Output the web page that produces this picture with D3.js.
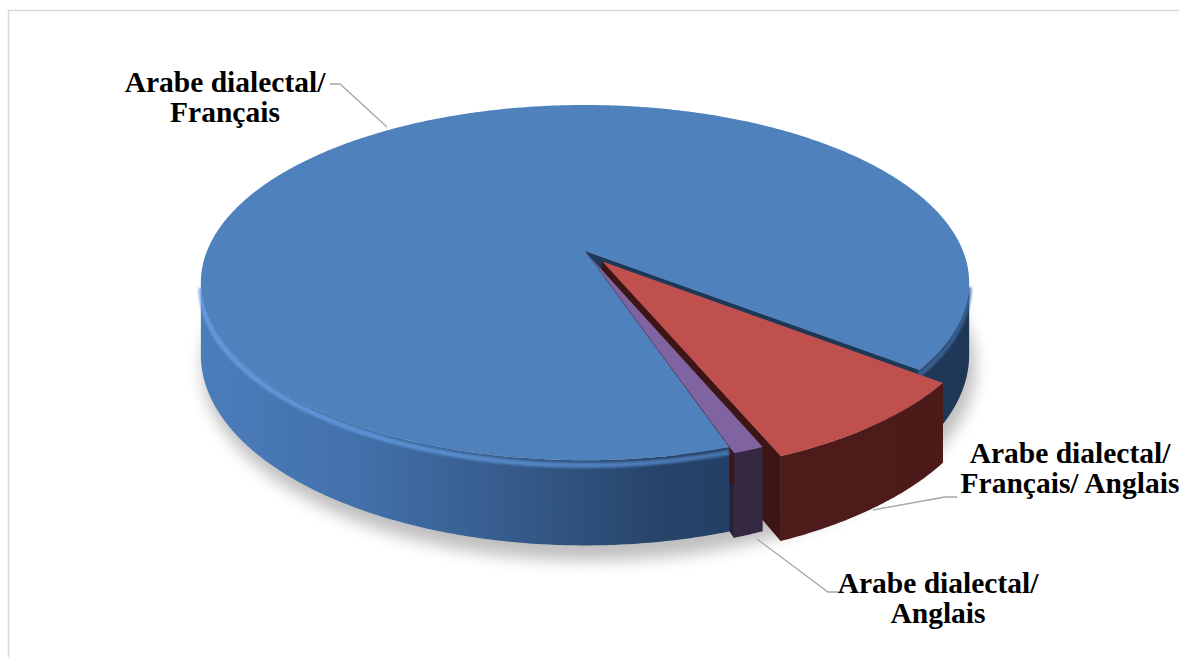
<!DOCTYPE html>
<html>
<head>
<meta charset="utf-8">
<script src="https://d3js.org/d3.v7.min.js"></script>
<style>
  body { margin: 0; background: #fff; }
  .lbl { font-family: "Liberation Serif", "Times New Roman", serif; font-weight: bold; font-size: 29.5px; fill: #000; }
</style>
</head>
<body>
<svg class="chart" width="1179" height="657"></svg>
<script>
// data (percent)
const categories = ["Arabe dialectal/ Français", "Arabe dialectal/ Français/ Anglais", "Arabe dialectal/ Anglais"];
const values = [90.7, 8.2, 1.1];
const labelLines = [["Arabe dialectal/", "Français"], ["Arabe dialectal/", "Français/ Anglais"], ["Arabe dialectal/", "Anglais"]];

// look of the 3D pie
const topColors  = ["#4f81bd", "#c0504d", "#8064a2"];
const sideGrads  = [["#4c7dbb", "#4271ab", "#365c8c", "#27436a", "#213a5c", "#1f3757"],
                    ["#6a2725", "#5e2220", "#581f1e", "#521d1c", "#4e1b1a", "#4a1a19"],
                    ["#40304f", "#3c2d4b", "#392b48", "#362944", "#332740", "#30253d"]];
const faceColors = ["#1e3858", "#3d1514", "#2c2138"];
const explode = [0, 0.075, 0.025];
const startDeg = 161.5;

const cx = 585, cy = 251, rx = 378, ry = 172, k = 0.178, H = 70;

const svg = d3.select(".chart");
const defs = svg.append("defs");

// frame
svg.append("rect").attr("x", 8.5).attr("y", 10.5).attr("width", 1200).attr("height", 700)
  .attr("fill", "none").attr("stroke", "#d9d9d9").attr("stroke-width", 1.5);

defs.append("filter").attr("id", "blur").attr("x", "-20%").attr("y", "-20%").attr("width", "140%").attr("height", "140%")
  .append("feGaussianBlur").attr("stdDeviation", 8);
defs.append("filter").attr("id", "soft")
  .append("feGaussianBlur").attr("stdDeviation", 1.2);

const xs = d3.scaleLinear().domain([0, 1]).range([200, 970]);
sideGrads.forEach((g, i) => {
  const lg = defs.append("linearGradient").attr("id", "side" + i)
    .attr("gradientUnits", "userSpaceOnUse")
    .attr("x1", xs(0)).attr("x2", xs(1)).attr("y1", 0).attr("y2", 0);
  const st = d3.scaleLinear().domain([0, g.length - 1]).range([0, 1]);
  g.forEach((c, j) => lg.append("stop").attr("offset", st(j)).attr("stop-color", c));
});
const rimG = defs.append("linearGradient").attr("id", "rim")
  .attr("gradientUnits", "userSpaceOnUse").attr("x1", 200).attr("x2", 970).attr("y1", 0).attr("y2", 0);
rimG.append("stop").attr("offset", 0).attr("stop-color", "#6aa2e6");
rimG.append("stop").attr("offset", 0.5).attr("stop-color", "#5a8fd2");
rimG.append("stop").attr("offset", 1).attr("stop-color", "#3c6598");

function proj(u, v, z) {
  const s = 1 / (1 - k * v);
  return [cx + rx * u * s, cy + (ry * v + H * z) * s];
}
function pt(a, r, z, o) {
  return proj(o[0] + r * Math.sin(a), o[1] - r * Math.cos(a), z);
}
function arcPts(a0, a1, z, o) {
  const n = Math.max(2, Math.ceil(Math.abs(a1 - a0) / (Math.PI / 360)));
  return d3.range(n + 1).map(i => pt(a0 + (a1 - a0) * i / n, 1, z, o));
}
const line = d3.line();
const closed = pts => line(pts) + "Z";

const start = startDeg * Math.PI / 180;
const arcs = d3.pie().sort(null).value(d => d).startAngle(start).endAngle(start + 2 * Math.PI)(values);
arcs.forEach((d, i) => {
  const m = (d.startAngle + d.endAngle) / 2;
  d.o = [explode[i] * Math.sin(m), -explode[i] * Math.cos(m)];
  d.i = i;
});

// shadow under the pie
svg.append("path")
  .attr("d", closed(arcPts(0, 2 * Math.PI, 1.08, [0.01, 0.03])))
  .attr("fill", "#000").attr("opacity", 0.25).attr("filter", "url(#blur)");

const cam = [0, 1 / k];

// radial faces
const faces = [];
arcs.forEach(d => {
  [[d.startAngle, -1], [d.endAngle, 1]].forEach(([a, dir]) => {
    const na = a + dir * Math.PI / 2;
    const n = [Math.sin(na), -Math.cos(na)];
    const p = [d.o[0] + 0.5 * Math.sin(a), d.o[1] - 0.5 * Math.cos(a)];
    const dot = n[0] * (cam[0] - p[0]) + n[1] * (cam[1] - p[1]);
    if (dot > 0) {
      faces.push({ i: d.i, dist: Math.hypot(cam[0] - p[0], cam[1] - p[1]),
        pts: [pt(a, 0, 0, d.o), pt(a, 1, 0, d.o), pt(a, 1, 1, d.o), pt(a, 0, 1, d.o)] });
    }
  });
});
faces.sort((a, b) => b.dist - a.dist);
svg.append("g").selectAll("path").data(faces).join("path")
  .attr("d", f => closed(f.pts))
  .attr("fill", f => faceColors[f.i]).attr("stroke", f => faceColors[f.i]).attr("stroke-width", 0.5);

// outer walls (only the part facing the viewer)
function visibleRange(d) {
  const out = [];
  const n = 720;
  let cur = null;
  for (let j = 0; j <= n; j++) {
    const a = d.startAngle + (d.endAngle - d.startAngle) * j / n;
    const u = Math.sin(a), v = -Math.cos(a);
    const p = [d.o[0] + u, d.o[1] + v];
    const vis = u * (cam[0] - p[0]) + v * (cam[1] - p[1]) > 0;
    if (vis && !cur) { cur = [a, a]; out.push(cur); }
    if (vis) cur[1] = a;
    if (!vis) cur = null;
  }
  return out;
}
const walls = svg.append("g");
arcs.forEach(d => {
  visibleRange(d).forEach(([a0, a1]) => {
    const pts = arcPts(a0, a1, 0, d.o).concat(arcPts(a1, a0, 1, d.o));
    walls.append("path").attr("d", closed(pts))
      .attr("fill", "url(#side" + d.i + ")");
    if (d.i === 0) {
      walls.append("path").attr("d", line(arcPts(a0, a1, 0.06, d.o)))
        .attr("fill", "none").attr("stroke", "url(#rim)").attr("stroke-width", 5)
        .attr("opacity", 0.8).attr("filter", "url(#soft)");
    }
  });
});

// top faces
svg.append("g").selectAll("path").data(arcs).join("path")
  .attr("d", d => closed([pt(0, 0, 0, d.o)].concat(arcPts(d.startAngle, d.endAngle, 0, d.o))))
  .attr("fill", d => topColors[d.i]);

// leader lines
const leaders = [
  [[330, 84], [340, 84], [387, 127]],
  [[957, 497], [945, 497], [873, 510]],
  [[838, 592], [828, 592], [757, 539]]
];
svg.append("g").selectAll("path").data(leaders).join("path")
  .attr("d", d => line(d)).attr("fill", "none").attr("stroke", "#a6a6a6").attr("stroke-width", 1.3);

// labels
const labelPos = [[225, 92], [1070, 463], [938, 593]];
const lg = svg.append("g").selectAll("text").data(labelLines).join("text")
  .attr("class", "lbl").attr("text-anchor", "middle")
  .attr("x", (d, i) => labelPos[i][0]).attr("y", (d, i) => labelPos[i][1]);
lg.selectAll("tspan").data(d => d).join("tspan")
  .attr("x", function () { return this.parentNode.getAttribute("x"); })
  .attr("dy", (d, j) => j === 0 ? 0 : 29.5)
  .text(d => d);
</script>
</body>
</html>
